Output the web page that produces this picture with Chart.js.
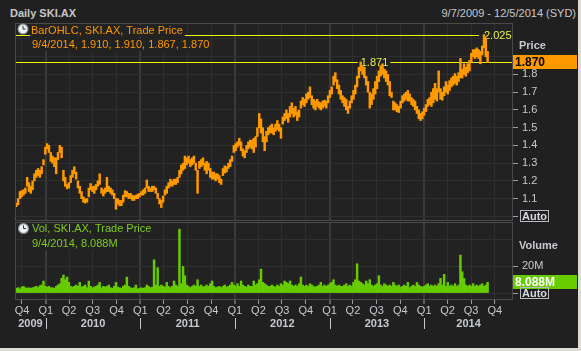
<!DOCTYPE html>
<html>
<head>
<meta charset="utf-8">
<title>Daily SKI.AX</title>
<script src="https://cdn.jsdelivr.net/npm/chart.js@4.4.1/dist/chart.umd.min.js"></script>
<style>
  html, body { margin:0; padding:0; background:#dcdcd4; }
  #wrap { position:relative; width:581px; height:351px; overflow:hidden; background:#dcdcd4; }
  #panel { position:absolute; left:0; top:0; width:578px; height:348px; background:#202020; }
  #title { position:absolute; left:10px; top:7px; font:bold 11px "Liberation Sans", Arial, sans-serif; line-height:13px; color:#c8c8c8; }
  #range { position:absolute; right:5px; top:7px; font:11px "Liberation Sans", Arial, sans-serif; line-height:13px; color:#c8c8c8; }
  canvas { position:absolute; left:0; }
</style>
</head>
<body>
<div id="wrap">
  <div id="panel"></div>
  <div id="title">Daily SKI.AX</div>
  <div id="range">9/7/2009 - 12/5/2014 (SYD)</div>
  <canvas id="cPrice" width="581" height="222" style="top:0"></canvas>
  <canvas id="cVol" width="581" height="129" style="top:222px"></canvas>
</div>
<script>
// ---------------- DATA (weekly ranges, weeks starting 7 Sep 2009) ----------------
const priceLow = [1.055,1.065,1.10,1.11,1.12,1.13,1.17,1.14,1.13,1.15,
 1.20,1.22,1.23,1.22,1.24,1.29,1.35,1.38,1.36,1.31,
 1.30,1.28,1.24,1.32,1.36,1.33,1.20,1.17,1.155,1.16,
 1.19,1.22,1.24,1.21,1.16,1.13,1.10,1.08,1.075,1.08,
 1.11,1.15,1.14,1.13,1.15,1.17,1.18,1.13,1.115,1.13,
 1.14,1.14,1.13,1.12,1.10,1.04,1.07,1.06,1.06,1.08,
 1.11,1.11,1.10,1.10,1.09,1.09,1.10,1.10,1.11,1.12,
 1.12,1.13,1.16,1.14,1.14,1.14,1.15,1.13,1.10,1.07,
 1.05,1.08,1.12,1.13,1.16,1.17,1.17,1.18,1.18,1.19,
 1.22,1.24,1.26,1.27,1.29,1.30,1.28,1.29,1.30,1.26,
 1.13,1.27,1.28,1.29,1.26,1.24,1.26,1.22,1.21,1.21,
 1.20,1.21,1.19,1.18,1.23,1.245,1.25,1.27,1.28,1.31,
 1.36,1.37,1.39,1.40,1.37,1.34,1.33,1.36,1.38,1.39,
 1.38,1.36,1.39,1.45,1.50,1.47,1.42,1.37,1.42,1.46,
 1.47,1.47,1.46,1.48,1.49,1.48,1.44,1.52,1.54,1.55,
 1.53,1.56,1.58,1.56,1.57,1.54,1.56,1.61,1.63,1.62,
 1.64,1.66,1.67,1.63,1.61,1.60,1.62,1.61,1.60,1.61,
 1.62,1.61,1.64,1.67,1.69,1.74,1.76,1.72,1.69,1.66,
 1.64,1.62,1.60,1.58,1.61,1.64,1.66,1.69,1.73,1.78,
 1.82,1.80,1.78,1.74,1.70,1.61,1.63,1.66,1.69,1.72,
 1.76,1.79,1.80,1.78,1.76,1.74,1.68,1.67,1.60,1.60,
 1.59,1.585,1.61,1.64,1.65,1.66,1.65,1.65,1.63,1.62,
 1.60,1.58,1.55,1.54,1.55,1.57,1.59,1.62,1.63,1.62,
 1.64,1.66,1.65,1.70,1.66,1.655,1.68,1.70,1.69,1.71,
 1.73,1.74,1.75,1.74,1.76,1.78,1.78,1.80,1.79,1.81,
 1.82,1.87,1.90,1.89,1.90,1.89,1.86,1.91,1.95,1.90,
 1.867];
const priceHigh = [1.075,1.10,1.14,1.145,1.15,1.16,1.22,1.19,1.17,1.20,
 1.24,1.26,1.27,1.26,1.28,1.32,1.39,1.41,1.40,1.36,
 1.34,1.33,1.33,1.36,1.40,1.39,1.26,1.22,1.18,1.19,
 1.23,1.26,1.28,1.25,1.20,1.17,1.14,1.11,1.10,1.10,
 1.16,1.185,1.17,1.17,1.18,1.20,1.24,1.16,1.15,1.16,
 1.22,1.17,1.16,1.15,1.13,1.10,1.10,1.09,1.09,1.12,
 1.145,1.14,1.13,1.13,1.12,1.115,1.12,1.125,1.13,1.14,
 1.15,1.16,1.205,1.17,1.16,1.17,1.17,1.16,1.13,1.10,
 1.09,1.115,1.15,1.17,1.19,1.21,1.20,1.21,1.21,1.22,
 1.26,1.29,1.30,1.34,1.33,1.34,1.32,1.33,1.34,1.30,
 1.26,1.31,1.32,1.33,1.30,1.31,1.30,1.27,1.25,1.25,
 1.24,1.24,1.23,1.21,1.27,1.285,1.28,1.30,1.32,1.34,
 1.40,1.41,1.42,1.44,1.42,1.38,1.37,1.40,1.42,1.43,
 1.43,1.44,1.45,1.50,1.58,1.55,1.50,1.45,1.48,1.50,
 1.51,1.52,1.50,1.52,1.54,1.52,1.50,1.56,1.58,1.60,
 1.58,1.62,1.64,1.61,1.62,1.59,1.60,1.65,1.67,1.66,
 1.69,1.70,1.73,1.68,1.66,1.65,1.66,1.645,1.64,1.65,
 1.655,1.65,1.68,1.71,1.73,1.79,1.81,1.77,1.74,1.71,
 1.68,1.67,1.66,1.62,1.65,1.68,1.71,1.74,1.79,1.84,
 1.871,1.85,1.84,1.79,1.76,1.70,1.69,1.72,1.76,1.79,
 1.82,1.85,1.86,1.83,1.82,1.80,1.76,1.70,1.65,1.64,
 1.63,1.62,1.65,1.68,1.69,1.70,1.71,1.69,1.67,1.66,
 1.65,1.62,1.60,1.58,1.59,1.61,1.63,1.66,1.67,1.70,
 1.72,1.75,1.72,1.82,1.72,1.70,1.73,1.76,1.74,1.765,
 1.78,1.79,1.805,1.79,1.81,1.89,1.83,1.86,1.84,1.86,
 1.88,1.92,1.94,1.94,1.95,1.94,1.93,1.96,2.025,2.00,
 1.93];
// volume in millions (peak day of each week)
const volumeM = [3.5,4,3,4.5,5,4,3.5,4,3.5,4,
 4.5,5,4,5.5,6,9,5,4.5,5,4,
 4,3.5,5,6,7,11,13.5,10,12,8,
 5,4.5,5,6,5,8,4.5,5,6,4,
 9,5,4,4.5,5,6,8,4,5,4.5,
 5,6,4,3.5,5,8,4.5,4,3.5,5,
 6,12,5,4,3.5,4,6,3,3.5,4,
 3.5,4,6,5,4,4.5,25,6,19,5,
 6,5,4.5,8,5,4,5,9,6,5,
 48,7,20,13,6,5,4,5,6,5,
 10,5,6,4.5,5,6,5,7,9,5,
 4,4.5,5,4,5,6,4.5,5,6,8,
 6,5,7,5,9,6,5,4.5,6,5,
 5,9,6,7,10,18,8,7,6,5,
 5,6,5,4.5,6,5,7,6,9,8,
 7,9,6,5,6,5,7,12,6,5,
 6,5,7,6,5,4.5,5,6,8,5,
 6,5,6,7,8,10,6,5,6,5,
 5,6,7,5,6,5,8,10,22,9,
 8,7,6,9,7,10,6,5,6,7,
 13,6,5,7,6,5,6,5,8,6,
 5,6,4.5,5,6,5,8,4,5,6,
 5,8,6,5,4.5,5,6,7,5,6,
 5,6,5,7,11,6,14,5,8,5,
 6,5,7,5,6,28.5,16,11,6,5,
 6,5,7,5,6,5,6,7,5,6,
 8.088];
const lastBar = { date:'9/4/2014', open:1.910, high:1.910, low:1.867, close:1.870, volume:8.088 };
const quarterLabels = ['Q4','Q1','Q2','Q3','Q4','Q1','Q2','Q3','Q4','Q1','Q2','Q3','Q4',
                       'Q1','Q2','Q3','Q4','Q1','Q2','Q3','Q4'];
const yearLabels = ['2009','2010','2011','2012','2013','2014'];
const priceTicks = [1.0,1.1,1.2,1.3,1.4,1.5,1.6,1.7,1.8,1.9,2.0];
const priceTickLabels = ['','1.1','1.2','1.3','1.4','1.5','1.6','1.7','1.8','',''];
const volTicks = [0,20,40];
const volTickLabels = ['','20M',''];
const markWeeks = [190, 258];   // weeks whose highs are annotated

// ---------------- helpers ----------------
const FONT = '"Liberation Sans", Arial, sans-serif';
const PLOT_BG = '#222222';
const ORANGE = '#ff9900';
const GREEN = '#66cc00';
const AXIS_TXT = '#c6cad0';
const T0 = Date.UTC(2009, 8, 7);
const dayOf = (y, m, d) => Math.round((Date.UTC(y, m, d) - T0) / 864e5);
const X_MIN = -3, X_MAX = 1920;
const weekDay = i => 7 * i + 2;
const quarterDays = [];
for (let y = 2009; y <= 2014; y++) for (let m = 0; m < 12; m += 3) {
  const d = dayOf(y, m, 1); if (d >= 0 && d <= dayOf(2014, 11, 5)) quarterDays.push(d);
}
const yearDays = [2010, 2011, 2012, 2013, 2014].map(y => dayOf(y, 0, 1));
const isYear = v => yearDays.includes(v);

function txt(ctx, s, x, y, font, color, align) {
  ctx.font = font; ctx.fillStyle = color; ctx.textAlign = align || 'left'; ctx.textBaseline = 'middle';
  ctx.fillText(s, x, y);
}
function clock(ctx, cx, cy) {
  ctx.save();
  ctx.beginPath(); ctx.arc(cx, cy, 5.5, 0, Math.PI * 2); ctx.fillStyle = '#8e949c'; ctx.fill();
  ctx.beginPath(); ctx.arc(cx, cy, 4.3, 0, Math.PI * 2); ctx.fillStyle = '#eef1f5'; ctx.fill();
  ctx.strokeStyle = '#333'; ctx.lineWidth = 1;
  ctx.beginPath(); ctx.moveTo(cx, cy); ctx.lineTo(cx, cy - 3.2); ctx.moveTo(cx, cy); ctx.lineTo(cx + 2.6, cy); ctx.stroke();
  ctx.restore();
}
function autoBox(ctx, yc) {
  ctx.save();
  ctx.strokeStyle = '#b8bcc2'; ctx.lineWidth = 1;
  ctx.strokeRect(520.5, Math.round(yc) - 5.5, 28, 11);
  txt(ctx, 'Auto', 534.5, Math.round(yc) + 0.5, 'bold 11px ' + FONT, '#d4d8de', 'center');
  ctx.restore();
}
function fillArea(c) {
  const { ctx, chartArea: a } = c;
  ctx.save(); ctx.fillStyle = PLOT_BG; ctx.fillRect(a.left, a.top, a.right - a.left, a.bottom - a.top); ctx.restore();
}
function frame(c) {
  const { ctx, chartArea: a } = c;
  ctx.save(); ctx.strokeStyle = '#4a4a4a'; ctx.lineWidth = 1;
  ctx.strokeRect(a.left + 0.5, a.top + 0.5, a.right - a.left - 1, a.bottom - a.top - 1); ctx.restore();
}
function xScale(showTicks) {
  return {
    type: 'linear', min: X_MIN, max: X_MAX, offset: false,
    afterBuildTicks(ax) { ax.ticks = quarterDays.map(v => ({ value: v })); },
    afterFit(ax) { ax.height = showTicks ? 51 : 0; ax.paddingLeft = 0; ax.paddingRight = 0; },
    grid: {
      offset: false,
      color: c => isYear(c.tick && c.tick.value) ? '#3a3a3a' : '#2f2f2f',
      lineWidth: c => isYear(c.tick && c.tick.value) ? 2 : 1,
      drawTicks: showTicks, tickLength: 4, tickColor: '#9a9ea4', tickWidth: 1
    },
    border: { display: false },
    ticks: {
      display: showTicks, autoSkip: false, maxRotation: 0, minRotation: 0, padding: 0,
      color: AXIS_TXT, font: { family: FONT, size: 11 },
      callback: (v, i) => quarterLabels[i]
    }
  };
}
const common = {
  responsive: false, animation: false, devicePixelRatio: 1, events: [],
  plugins: { legend: { display: false }, tooltip: { enabled: false } }
};

// ---------------- price chart ----------------
const priceDecor = {
  id: 'priceDecor',
  beforeDraw: fillArea,
  beforeDatasetsDraw(c) {
    const { ctx, chartArea: a, scales: { x, y } } = c;
    ctx.save();
    ctx.strokeStyle = '#f4f400'; ctx.lineWidth = 1;
    const yl = Math.round(y.getPixelForValue(lastBar.close)) + 0.5;
    ctx.beginPath(); ctx.moveTo(a.left, yl); ctx.lineTo(a.right, yl); ctx.stroke();
    ctx.font = '11px ' + FONT;
    markWeeks.forEach(w => {
      const v = priceHigh[w];
      const yy = Math.round(y.getPixelForValue(v)) + 0.5;
      const xx = x.getPixelForValue(weekDay(w));
      ctx.beginPath(); ctx.moveTo(a.left, yy); ctx.lineTo(xx - 5, yy); ctx.stroke();
      const s = v.toFixed(3); const tw = ctx.measureText(s).width;
      ctx.fillStyle = PLOT_BG; ctx.fillRect(xx - 3, yy - 6, tw + 5, 12);
      txt(ctx, s, xx, yy + 0.5, '11px ' + FONT, '#e6f046');
    });
    ctx.restore();
  },
  afterDraw(c) {
    const { ctx, scales: { y } } = c;
    frame(c);
    ctx.save();
    ctx.font = '11px ' + FONT;
    const l1 = 'BarOHLC, SKI.AX, Trade Price';
    const l2 = [lastBar.date, lastBar.open.toFixed(3), lastBar.high.toFixed(3), lastBar.low.toFixed(3), lastBar.close.toFixed(3)].join(', ');
    const w1 = ctx.measureText(l1).width, w2 = ctx.measureText(l2).width;
    ctx.fillStyle = PLOT_BG; ctx.fillRect(30, 25, w1 + 3, 12); ctx.fillRect(30, 38, w2 + 3, 13);
    txt(ctx, l1, 31, 31, '11px ' + FONT, ORANGE);
    txt(ctx, l2, 32, 44.5, '11px ' + FONT, ORANGE);
    clock(ctx, 23, 29);
    txt(ctx, 'Price', 519, 46, 'bold 11px ' + FONT, AXIS_TXT);
    const yc = Math.round(y.getPixelForValue(lastBar.close));
    ctx.fillStyle = ORANGE; ctx.fillRect(513, yc - 7, 64, 14);
    txt(ctx, lastBar.close.toFixed(3), 515, yc + 0.5, 'bold 12px ' + FONT, '#000');
    autoBox(ctx, y.getPixelForValue(priceTicks[0]));
    ctx.restore();
  }
};
new Chart(document.getElementById('cPrice'), {
  type: 'bar',
  data: { datasets: [{
    data: priceLow.map((lo, i) => ({ x: weekDay(i), y: [lo, priceHigh[i]] })),
    backgroundColor: ORANGE, borderWidth: 0, barPercentage: 1, categoryPercentage: 1
  }] },
  options: Object.assign({}, common, {
    layout: { padding: { left: 15, top: 23, right: 0, bottom: 1 } },
    scales: {
      x: xScale(false),
      y: {
        type: 'linear', position: 'right', min: 0.974, max: 2.09,
        afterBuildTicks(ax) { ax.ticks = priceTicks.map(v => ({ value: v })); },
        afterFit(ax) { ax.width = 68; ax.paddingTop = 0; ax.paddingBottom = 0; },
        grid: { color: '#2f2f2f', tickLength: 5, tickColor: c => (c.tick && c.tick.value > 1.85) ? 'rgba(0,0,0,0)' : '#9a9ea4' },
        border: { display: false },
        ticks: { padding: 4, color: AXIS_TXT, font: { family: FONT, size: 11 }, callback: (v, i) => priceTickLabels[i] }
      }
    }
  }),
  plugins: [priceDecor]
});

// ---------------- volume chart ----------------
const volDecor = {
  id: 'volDecor',
  beforeDraw: fillArea,
  afterDraw(c) {
    const { ctx, scales: { x, y } } = c;
    frame(c);
    ctx.save();
    ctx.font = '11px ' + FONT;
    const l1 = 'Vol, SKI.AX, Trade Price';
    const l2 = lastBar.date + ', ' + lastBar.volume.toFixed(3) + 'M';
    const w1 = ctx.measureText(l1).width, w2 = ctx.measureText(l2).width;
    ctx.fillStyle = PLOT_BG; ctx.fillRect(30, 1, w1 + 3, 12); ctx.fillRect(30, 15, w2 + 3, 13);
    txt(ctx, l1, 32, 7, '11px ' + FONT, '#7fcc1a');
    txt(ctx, l2, 32, 22, '11px ' + FONT, '#7fcc1a');
    clock(ctx, 23.5, 6.5);
    txt(ctx, 'Volume', 519, 24, 'bold 11px ' + FONT, AXIS_TXT);
    const yc = Math.round(y.getPixelForValue(lastBar.volume));
    ctx.fillStyle = GREEN; ctx.fillRect(513, yc - 7, 64, 14);
    txt(ctx, lastBar.volume.toFixed(3) + 'M', 515, yc + 0.5, 'bold 12px ' + FONT, '#ffffff');
    autoBox(ctx, y.getPixelForValue(volTicks[0]));
    // year row
    ctx.strokeStyle = '#c8c8c8'; ctx.lineWidth = 1;
    yearDays.forEach(d => {
      const px = Math.round(x.getPixelForValue(d)) + 0.5;
      ctx.beginPath(); ctx.moveTo(px, 96); ctx.lineTo(px, 107); ctx.stroke();
    });
    yearLabels.forEach(lbl => {
      const yr = +lbl;
      const s = Math.max(X_MIN, dayOf(yr, 0, 1)), e = Math.min(X_MAX, dayOf(yr + 1, 0, 1));
      const cx = (x.getPixelForValue(s) + x.getPixelForValue(e)) / 2;
      txt(ctx, lbl, cx, 102, 'bold 11px ' + FONT, AXIS_TXT, 'center');
    });
    ctx.restore();
  }
};
new Chart(document.getElementById('cVol'), {
  type: 'bar',
  data: { datasets: [{
    data: volumeM.map((v, i) => ({ x: weekDay(i), y: v })),
    backgroundColor: GREEN, borderWidth: 0, barPercentage: 1, categoryPercentage: 1
  }] },
  options: Object.assign({}, common, {
    layout: { padding: { left: 15, top: 0, right: 0, bottom: 0 } },
    scales: {
      x: xScale(true),
      y: {
        type: 'linear', position: 'right', min: -5.26, max: 53.4,
        afterBuildTicks(ax) { ax.ticks = volTicks.map(v => ({ value: v })); },
        afterFit(ax) { ax.width = 68; ax.paddingTop = 0; ax.paddingBottom = 0; },
        grid: { color: '#2f2f2f', tickLength: 5, tickColor: c => (c.tick && c.tick.value > 30) ? 'rgba(0,0,0,0)' : '#9a9ea4' },
        border: { display: false },
        ticks: { padding: 4, color: AXIS_TXT, font: { family: FONT, size: 11 }, callback: (v, i) => volTickLabels[i] }
      }
    }
  }),
  plugins: [volDecor]
});
</script>
</body>
</html>
